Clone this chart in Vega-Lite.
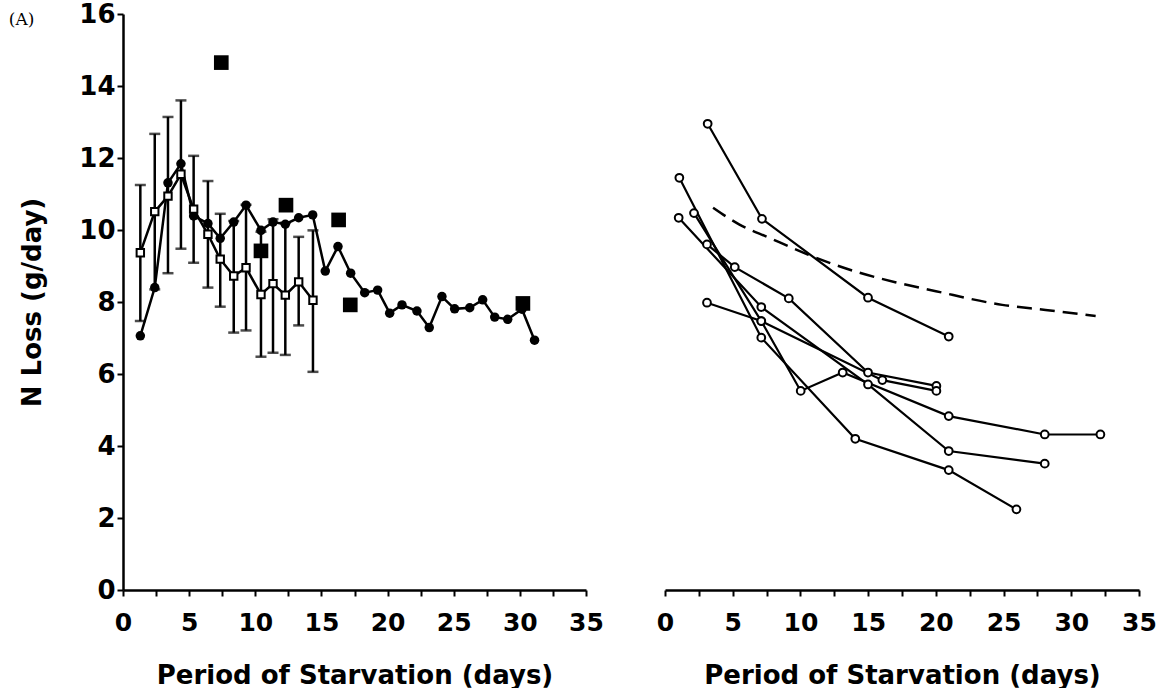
{
  "$schema": "https://vega.github.io/schema/vega-lite/v6.json",
  "background": "white",
  "padding": {"left": 8, "top": 1, "right": 5, "bottom": 0},
  "config": {
    "view": {"stroke": null},
    "axis": {
      "grid": false,
      "domainColor": "black", "domainWidth": 2.5,
      "tickColor": "black", "tickWidth": 2, "tickSize": 6,
      "labelFont": "DejaVu Sans", "labelFontWeight": "bold", "labelFontSize": 25, "labelColor": "black",
      "titleFont": "DejaVu Sans", "titleFontWeight": "bold", "titleFontSize": 26, "titleColor": "black"
    }
  },
  "title": {"text": "(A)", "anchor": "start", "frame": "bounds", "font": "DejaVu Serif", "fontSize": 17, "fontWeight": "normal", "color": "black", "offset": -28, "dx": -11},
  "datasets": {
    "circ": [
      {"day": 1.31, "n": 7.06}, {"day": 2.40, "n": 8.40}, {"day": 3.40, "n": 11.31}, {"day": 4.38, "n": 11.84},
      {"day": 5.34, "n": 10.39}, {"day": 6.42, "n": 10.18}, {"day": 7.35, "n": 9.77}, {"day": 8.37, "n": 10.22},
      {"day": 9.30, "n": 10.69}, {"day": 10.43, "n": 9.99}, {"day": 11.34, "n": 10.22}, {"day": 12.27, "n": 10.16},
      {"day": 13.28, "n": 10.34}, {"day": 14.34, "n": 10.42}, {"day": 15.29, "n": 8.86}, {"day": 16.25, "n": 9.54},
      {"day": 17.21, "n": 8.80}, {"day": 18.27, "n": 8.26}, {"day": 19.25, "n": 8.33}, {"day": 20.16, "n": 7.69},
      {"day": 21.09, "n": 7.92}, {"day": 22.22, "n": 7.75}, {"day": 23.15, "n": 7.29}, {"day": 24.11, "n": 8.15},
      {"day": 25.07, "n": 7.81}, {"day": 26.21, "n": 7.84}, {"day": 27.19, "n": 8.06}, {"day": 28.10, "n": 7.58},
      {"day": 29.08, "n": 7.52}, {"day": 30.16, "n": 7.80}, {"day": 31.11, "n": 6.94}
    ],
    "mean": [
      {"day": 1.31, "n": 9.37, "lo": 7.47, "hi": 11.25},
      {"day": 2.40, "n": 10.51, "lo": 8.35, "hi": 12.67},
      {"day": 3.40, "n": 10.94, "lo": 8.80, "hi": 13.14},
      {"day": 4.38, "n": 11.55, "lo": 9.48, "hi": 13.60},
      {"day": 5.34, "n": 10.58, "lo": 9.09, "hi": 12.06},
      {"day": 6.42, "n": 9.88, "lo": 8.40, "hi": 11.36},
      {"day": 7.35, "n": 9.19, "lo": 7.87, "hi": 10.45},
      {"day": 8.37, "n": 8.72, "lo": 7.15, "hi": 10.25},
      {"day": 9.30, "n": 8.95, "lo": 7.21, "hi": 10.70},
      {"day": 10.43, "n": 8.21, "lo": 6.48, "hi": 9.95},
      {"day": 11.34, "n": 8.51, "lo": 6.59, "hi": 10.30},
      {"day": 12.27, "n": 8.19, "lo": 6.53, "hi": 10.20},
      {"day": 13.28, "n": 8.56, "lo": 7.35, "hi": 9.81},
      {"day": 14.36, "n": 8.05, "lo": 6.06, "hi": 9.99}
    ],
    "sq": [
      {"day": 7.43, "n": 14.65}, {"day": 10.43, "n": 9.42}, {"day": 12.32, "n": 10.69},
      {"day": 16.30, "n": 10.28}, {"day": 17.18, "n": 7.92}, {"day": 30.23, "n": 7.96}
    ],
    "indiv": [
      {"s": "A", "day": 3.15, "n": 12.95}, {"s": "A", "day": 7.16, "n": 10.31}, {"s": "A", "day": 14.99, "n": 8.12}, {"s": "A", "day": 20.95, "n": 7.04},
      {"s": "B", "day": 1.06, "n": 11.45}, {"s": "B", "day": 7.11, "n": 7.01}, {"s": "B", "day": 14.05, "n": 4.20}, {"s": "B", "day": 20.95, "n": 3.33}, {"s": "B", "day": 25.95, "n": 2.24},
      {"s": "C", "day": 1.01, "n": 10.34}, {"s": "C", "day": 7.11, "n": 7.86}, {"s": "C", "day": 14.99, "n": 5.71}, {"s": "C", "day": 20.95, "n": 3.86}, {"s": "C", "day": 28.04, "n": 3.51},
      {"s": "D", "day": 2.14, "n": 10.47}, {"s": "D", "day": 7.11, "n": 7.47}, {"s": "D", "day": 10.02, "n": 5.53}, {"s": "D", "day": 13.12, "n": 6.04}, {"s": "D", "day": 20.95, "n": 4.83}, {"s": "D", "day": 28.04, "n": 4.32}, {"s": "D", "day": 32.15, "n": 4.32},
      {"s": "E", "day": 3.10, "n": 9.60}, {"s": "E", "day": 5.15, "n": 8.97}, {"s": "E", "day": 9.14, "n": 8.10}, {"s": "E", "day": 14.99, "n": 6.04}, {"s": "E", "day": 20.04, "n": 5.67},
      {"s": "F", "day": 3.10, "n": 7.98}, {"s": "F", "day": 7.11, "n": 7.47}, {"s": "F", "day": 16.05, "n": 5.83}, {"s": "F", "day": 20.04, "n": 5.53}
    ],
    "curve": [
      {"day": 3.55, "n": 10.62}, {"day": 5.5, "n": 10.15}, {"day": 7.66, "n": 9.79}, {"day": 10.6, "n": 9.31},
      {"day": 14.3, "n": 8.82}, {"day": 17.0, "n": 8.55}, {"day": 20.0, "n": 8.30}, {"day": 24.9, "n": 7.92},
      {"day": 28.1, "n": 7.78}, {"day": 31.8, "n": 7.61}
    ]
  },
  "bounds": "flush",
  "spacing": 79,
  "hconcat": [
    {
      "width": 463,
      "height": 576,
      "encoding": {
        "x": {
          "field": "day", "type": "quantitative",
          "scale": {"domain": [0, 35], "nice": false, "zero": false},
          "axis": {
            "title": "Period of Starvation (days)",
            "values": [0, 2.5, 5, 7.5, 10, 12.5, 15, 17.5, 20, 22.5, 25, 27.5, 30, 32.5, 35],
            "labelExpr": "datum.value % 5 === 0 ? datum.label : ''",
            "labelPadding": 14, "titlePadding": 27, "labelFlush": false, "labelOverlap": false
          }
        }
      },
      "layer": [
        {
          "data": {"name": "mean"},
          "mark": {"type": "rule", "color": "black", "strokeWidth": 2.5},
          "encoding": {
            "y": {"field": "lo", "type": "quantitative", "title": "N Loss (g/day)",
                  "scale": {"domain": [0, 16], "nice": false},
                  "axis": {"values": [0,1,2,3,4,5,6,7,8,9,10,11,12,13,14,15,16],
                           "labelExpr": "datum.value % 2 === 0 ? datum.label : ''",
                           "labelFontSize": 26,
                           "labelPadding": 2, "titlePadding": 33, "labelOverlap": false}},
            "y2": {"field": "hi"}
          }
        },
        {
          "data": {"name": "mean"},
          "mark": {"type": "tick", "orient": "horizontal", "color": "black", "thickness": 2.5, "size": 11},
          "encoding": {"y": {"field": "hi", "type": "quantitative", "title": "N Loss (g/day)"}}
        },
        {
          "data": {"name": "mean"},
          "mark": {"type": "tick", "orient": "horizontal", "color": "black", "thickness": 2.5, "size": 11},
          "encoding": {"y": {"field": "lo", "type": "quantitative", "title": "N Loss (g/day)"}}
        },
        {
          "data": {"name": "mean"},
          "mark": {"type": "line", "color": "black", "strokeWidth": 2.5},
          "encoding": {"y": {"field": "n", "type": "quantitative", "title": "N Loss (g/day)"}}
        },
        {
          "data": {"name": "circ"},
          "mark": {"type": "line", "color": "black", "strokeWidth": 2.5},
          "encoding": {"y": {"field": "n", "type": "quantitative", "title": "N Loss (g/day)"}}
        },
        {
          "data": {"name": "circ"},
          "mark": {"type": "point", "shape": "circle", "filled": true, "color": "black", "opacity": 1, "size": 90},
          "encoding": {"y": {"field": "n", "type": "quantitative", "title": "N Loss (g/day)"}}
        },
        {
          "data": {"name": "mean"},
          "mark": {"type": "point", "shape": "square", "fill": "white", "stroke": "black", "strokeWidth": 2, "opacity": 1, "size": 55},
          "encoding": {"y": {"field": "n", "type": "quantitative", "title": "N Loss (g/day)"}}
        },
        {
          "data": {"name": "sq"},
          "mark": {"type": "point", "shape": "square", "filled": true, "color": "black", "opacity": 1, "size": 215},
          "encoding": {"y": {"field": "n", "type": "quantitative", "title": "N Loss (g/day)"}}
        }
      ]
    },
    {
      "width": 474,
      "height": 576,
      "encoding": {
        "x": {
          "field": "day", "type": "quantitative",
          "scale": {"domain": [0, 35], "nice": false, "zero": false},
          "axis": {
            "title": "Period of Starvation (days)",
            "values": [0, 2.5, 5, 7.5, 10, 12.5, 15, 17.5, 20, 22.5, 25, 27.5, 30, 32.5, 35],
            "labelExpr": "datum.value % 5 === 0 ? datum.label : ''",
            "labelPadding": 14, "titlePadding": 27, "labelFlush": false, "labelOverlap": false
          }
        },
        "y": {"field": "n", "type": "quantitative", "scale": {"domain": [0, 16], "nice": false}, "axis": null}
      },
      "layer": [
        {
          "data": {"name": "indiv"},
          "mark": {"type": "line", "color": "black", "strokeWidth": 2.2},
          "encoding": {"detail": {"field": "s"}}
        },
        {
          "data": {"name": "indiv"},
          "mark": {"type": "point", "shape": "circle", "fill": "white", "stroke": "black", "strokeWidth": 2, "opacity": 1, "size": 60},
          "encoding": {}
        },
        {
          "data": {"name": "curve"},
          "mark": {"type": "line", "color": "black", "strokeWidth": 2.5, "strokeDash": [15, 8], "interpolate": "monotone"},
          "encoding": {}
        }
      ]
    }
  ]
}
